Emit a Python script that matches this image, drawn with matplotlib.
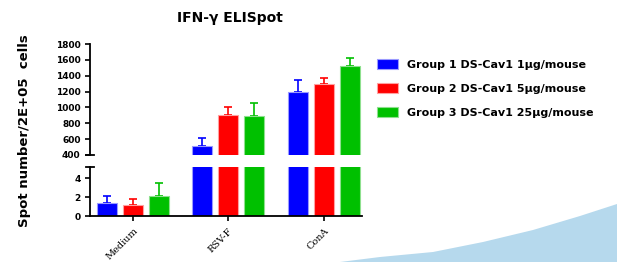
import matplotlib
matplotlib.use("Agg")
import matplotlib.pyplot as plt
import numpy as np
from matplotlib.patches import Patch, Polygon

# ---- data ----
categories = ["Medium", "RSV-F", "ConA"]
series_labels = ["Group 1 DS-Cav1 1µg/mouse",
                 "Group 2 DS-Cav1 5µg/mouse",
                 "Group 3 DS-Cav1 25µg/mouse"]
group1 = [1.35, 513, 1198]
group2 = [1.15, 904, 1300]
group3 = [2.15, 896, 1526]
group1_err = [0.75, 97, 148]
group2_err = [0.65, 97, 75]
group3_err = [1.35, 164, 94]
upper_ticks = [400, 600, 800, 1000, 1200, 1400, 1600, 1800]
lower_ticks = [0, 2, 4]
title = "IFN-γ ELISpot"
ylabel = "Spot number/2E+05  cells"

colors = ["#0000ff", "#ff0000", "#00c000"]
edges = ["#9a9aff", "#ffa0a0", "#8ee08e"]

W, H = 617, 262
fig = plt.figure(figsize=(W / 100, H / 100), dpi=100)

def fx(px):
    return px / W

def fy(py):
    return (H - py) / H

ax_left, ax_right = 90, 362
ax_top = fig.add_axes([fx(ax_left), fy(155), fx(ax_right - ax_left), (155 - 44) / H])
ax_bot = fig.add_axes([fx(ax_left), fy(216), fx(ax_right - ax_left), (216 - 167) / H])

x = np.arange(len(categories))
offsets = [-0.272, 0.0, 0.272]
width = 0.209
series = [group1, group2, group3]
errs = [group1_err, group2_err, group3_err]

for ax in (ax_top, ax_bot):
    for s, e, off, c, ec in zip(series, errs, offsets, colors, edges):
        ax.bar(x + off, s, width=width, color=c, edgecolor=ec, linewidth=0.8, zorder=2)
        ax.errorbar(x + off, s, yerr=[np.zeros(len(s)), e], fmt="none",
                    ecolor=c, elinewidth=1.2, capsize=3.2, capthick=1.2, zorder=1)
    ax.set_xlim(-0.45, 2.40)
    for sp in ("top", "right"):
        ax.spines[sp].set_visible(False)
    ax.spines["left"].set_linewidth(1.3)
    ax.tick_params(axis="y", length=3.6, width=1.2, pad=3.2, labelsize=6.5)

ax_top.set_ylim(400, 1800)
ax_top.set_yticks(upper_ticks)
ax_top.set_yticklabels([str(t) for t in upper_ticks], fontweight="bold", fontsize=6.5)
ax_top.spines["bottom"].set_visible(False)
ax_top.set_xticks([])

ax_bot.set_ylim(0, 5.16)
ax_bot.set_yticks(lower_ticks)
ax_bot.set_yticklabels([str(t) for t in lower_ticks], fontweight="bold", fontsize=6.5)
ax_bot.spines["bottom"].set_linewidth(1.3)
ax_bot.set_xticks(x)
ax_bot.set_xticklabels(categories, rotation=45, ha="right", rotation_mode="anchor",
                       family="DejaVu Serif", fontsize=7)
ax_bot.tick_params(axis="x", length=3.6, width=1.2, pad=4)

# break caps
w = 4 / (ax_right - ax_left)
ax_top.plot([-w, w], [0, 0], color="black", lw=1.3, transform=ax_top.transAxes, clip_on=False)
ax_bot.plot([-w, w], [1, 1], color="black", lw=1.3, transform=ax_bot.transAxes, clip_on=False)

fig.text(fx(230), fy(18), title, ha="center", va="center", fontsize=10, fontweight="bold")
fig.text(fx(25), fy(131), ylabel, rotation=90, ha="center", va="center",
         fontsize=9.5, fontweight="bold")

handles = [Patch(facecolor=c, edgecolor=ec, linewidth=0.8) for c, ec in zip(colors, edges)]
fig.legend(handles, series_labels, loc="upper left",
           bbox_to_anchor=(fx(377), fy(59)), frameon=False,
           prop={"weight": "bold", "size": 8}, handlelength=1.9, handleheight=1.0,
           handletextpad=0.8, labelspacing=1.2, borderpad=0, borderaxespad=0)

# decorative swoosh bottom right
px = [340, 380, 433, 483, 533, 580, 617, 617]
py = [262, 257, 252, 242, 230, 216, 204, 262]
fig.patches.append(Polygon(list(zip([fx(v) for v in px], [fy(v) for v in py])),
                           closed=True, transform=fig.transFigure,
                           facecolor="#b6d9ed", edgecolor="none", zorder=0))

fig.savefig("out.png", dpi=100)
